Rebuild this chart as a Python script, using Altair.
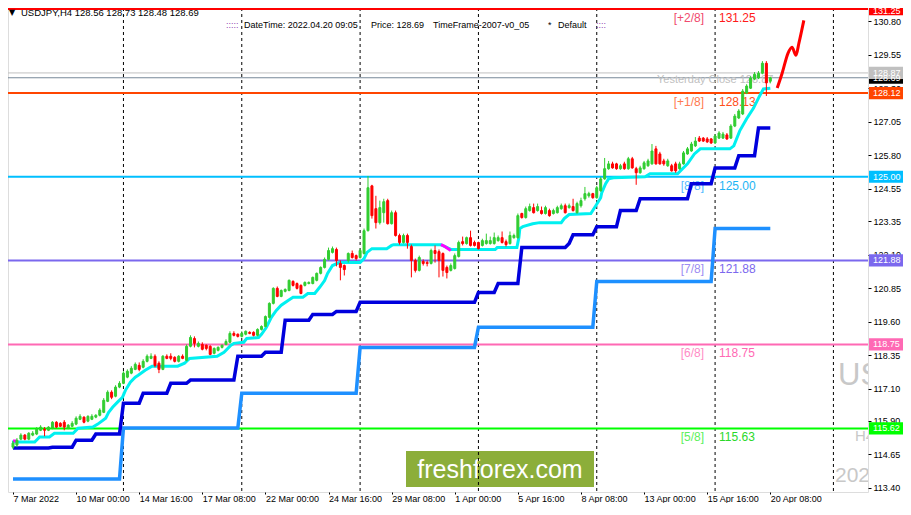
import altair as alt
import pandas as pd

FONT = "Liberation Sans"

# ---------------- data ----------------
opens = [114.92, 115.00, 115.22, 115.37, 115.22, 115.37, 115.41, 115.55, 115.59, 115.55,
         115.63, 115.85, 115.81, 115.85, 115.63, 115.70, 115.78, 115.96, 116.04, 115.89,
         115.96, 116.04, 116.11, 116.22, 116.63, 116.97, 116.82, 117.16, 117.30, 117.53,
         117.68, 117.82, 117.97, 117.90, 118.12, 118.23, 118.31, 118.05, 117.82, 118.31,
         118.31, 118.27, 118.12, 118.31, 118.16, 118.68, 118.97, 118.68, 118.75, 118.72,
         118.68, 118.42, 118.53, 118.64, 118.75, 118.83, 119.16, 119.13, 119.05, 119.13,
         119.20, 119.20, 119.09, 119.31, 119.42, 119.76, 120.28, 120.84, 120.54, 120.73,
         120.76, 121.10, 121.02, 120.95, 120.95, 121.02, 121.02, 121.14, 121.40, 121.62,
         121.92, 122.18, 122.29, 121.77, 121.69, 121.88, 122.14, 122.06, 121.99, 122.14,
         122.99, 124.66, 123.81, 123.29, 123.66, 124.11, 123.25, 123.66, 122.81, 122.55,
         122.81, 122.40, 121.88, 121.51, 121.84, 121.80, 121.77, 122.25, 122.21, 122.14,
         121.62, 121.51, 121.58, 122.03, 122.58, 122.51, 122.73, 122.55, 122.55, 122.44,
         122.51, 122.51, 122.51, 122.62, 122.73, 122.58, 122.51, 122.73, 122.73, 123.63,
         123.48, 123.74, 123.85, 123.74, 123.74, 123.63, 123.74, 123.63, 123.66, 123.81,
         123.92, 123.85, 123.89, 123.66, 123.92, 124.18, 124.29, 124.37, 124.22, 124.48,
         124.92, 125.30, 125.48, 125.48, 125.30, 125.48, 125.30, 125.67, 125.30, 125.15,
         125.30, 125.41, 125.48, 126.04, 125.85, 125.59, 125.41, 125.41, 125.48, 125.30,
         125.48, 125.85, 125.96, 126.15, 126.44, 126.44, 126.41, 126.41, 126.26, 126.44,
         126.44, 126.56, 126.44, 126.89, 127.19, 127.34, 128.12, 128.30, 128.64, 128.68,
         128.86, 129.23, 128.56]
highs = [115.15, 115.26, 115.44, 115.41, 115.48, 115.52, 115.67, 115.74, 115.67, 115.70,
         115.89, 115.89, 115.85, 115.93, 115.78, 115.89, 116.07, 116.15, 116.07, 116.11,
         116.15, 116.15, 116.37, 116.75, 117.04, 117.04, 117.23, 117.38, 117.75, 117.82,
         117.94, 118.08, 118.08, 118.20, 118.38, 118.42, 118.38, 118.12, 118.35, 118.38,
         118.42, 118.31, 118.35, 118.38, 118.75, 119.09, 119.05, 118.86, 118.83, 118.75,
         118.72, 118.64, 118.68, 118.75, 118.94, 119.24, 119.24, 119.16, 119.24, 119.27,
         119.24, 119.24, 119.35, 119.46, 119.83, 120.32, 120.88, 120.91, 120.80, 120.84,
         121.17, 121.14, 121.06, 120.99, 121.10, 121.10, 121.28, 121.43, 121.66, 121.99,
         122.36, 122.40, 122.36, 121.88, 121.73, 122.18, 122.25, 122.10, 122.32, 123.07,
         125.03, 124.70, 124.29, 124.11, 124.18, 124.18, 123.74, 123.74, 122.88, 122.88,
         122.88, 122.47, 121.95, 122.06, 121.92, 121.88, 122.32, 122.44, 122.29, 122.18,
         121.69, 121.77, 122.14, 122.62, 122.77, 122.77, 122.99, 122.62, 122.58, 122.69,
         122.88, 122.77, 122.92, 122.81, 122.96, 122.66, 122.96, 122.88, 123.63, 123.66,
         123.89, 124.00, 124.00, 124.00, 123.89, 123.92, 123.81, 123.81, 123.92, 124.00,
         124.00, 124.00, 124.18, 124.07, 124.22, 124.62, 124.44, 124.40, 124.66, 125.00,
         125.70, 125.59, 125.56, 125.52, 125.48, 125.56, 125.74, 125.74, 125.37, 125.41,
         125.59, 125.67, 126.22, 126.15, 125.93, 125.67, 125.67, 125.48, 125.56, 125.56,
         125.96, 126.11, 126.30, 126.48, 126.52, 126.48, 126.48, 126.44, 126.59, 126.70,
         126.67, 126.63, 126.96, 127.34, 127.52, 128.27, 128.45, 128.75, 128.90, 128.94,
         129.31, 129.31, 128.73]
lows = [114.85, 114.92, 115.18, 115.18, 115.18, 115.33, 115.37, 115.52, 115.33, 115.52,
        115.59, 115.63, 115.67, 115.55, 115.59, 115.67, 115.74, 115.93, 115.81, 115.85,
        115.93, 116.00, 116.07, 116.19, 116.60, 116.71, 116.78, 117.12, 117.27, 117.49,
        117.64, 117.79, 117.75, 117.86, 118.08, 118.20, 117.90, 117.68, 117.79, 118.20,
        118.16, 118.08, 118.08, 118.20, 118.12, 118.64, 118.64, 118.64, 118.53, 118.53,
        118.35, 118.38, 118.49, 118.60, 118.72, 118.79, 119.05, 119.01, 119.01, 119.09,
        119.13, 119.05, 119.05, 119.27, 119.39, 119.72, 120.24, 120.51, 120.51, 120.69,
        120.73, 120.91, 120.80, 120.62, 120.91, 120.99, 120.99, 121.10, 121.36, 121.58,
        121.88, 122.14, 121.66, 121.14, 121.32, 121.80, 121.95, 121.88, 121.95, 122.10,
        122.96, 123.44, 123.07, 123.22, 123.29, 123.22, 123.22, 122.77, 122.47, 122.51,
        122.32, 121.25, 121.43, 121.47, 121.69, 121.66, 121.73, 121.80, 121.25, 121.28,
        121.21, 121.47, 121.54, 121.99, 122.44, 122.47, 122.40, 122.40, 122.29, 122.40,
        122.47, 122.47, 122.47, 122.58, 122.51, 122.40, 122.47, 122.69, 122.69, 123.44,
        123.44, 123.70, 123.63, 123.70, 123.59, 123.59, 123.51, 123.59, 123.63, 123.77,
        123.63, 123.81, 123.70, 123.63, 123.85, 124.11, 124.22, 124.18, 124.18, 124.44,
        124.89, 125.26, 125.30, 125.26, 125.26, 125.26, 125.26, 125.30, 124.70, 125.11,
        125.26, 125.37, 125.45, 125.45, 125.45, 125.41, 125.37, 125.19, 125.15, 125.26,
        125.45, 125.82, 125.93, 126.11, 126.30, 126.30, 126.26, 126.22, 126.22, 126.41,
        126.41, 126.37, 126.41, 126.85, 127.15, 127.30, 128.08, 128.27, 128.60, 128.64,
        128.82, 128.01, 128.48]
closes = [115.07, 115.18, 115.37, 115.22, 115.44, 115.44, 115.59, 115.67, 115.55, 115.67,
          115.85, 115.67, 115.70, 115.67, 115.74, 115.81, 116.00, 116.07, 115.85, 116.07,
          116.07, 116.11, 116.30, 116.67, 116.97, 116.78, 117.16, 117.30, 117.68, 117.75,
          117.86, 118.01, 117.82, 118.12, 118.31, 118.31, 117.97, 117.82, 118.31, 118.23,
          118.23, 118.12, 118.31, 118.23, 118.68, 119.01, 118.79, 118.79, 118.57, 118.60,
          118.38, 118.60, 118.64, 118.72, 118.86, 119.16, 119.09, 119.05, 119.16, 119.24,
          119.16, 119.09, 119.31, 119.42, 119.79, 120.28, 120.84, 120.54, 120.76, 120.80,
          121.14, 120.95, 120.84, 120.65, 121.06, 121.06, 121.25, 121.40, 121.62, 121.92,
          122.25, 122.32, 121.88, 121.62, 121.54, 122.14, 121.99, 121.95, 122.25, 122.99,
          124.59, 123.55, 123.29, 123.85, 124.07, 123.25, 123.66, 122.81, 122.55, 122.81,
          122.55, 121.88, 121.51, 121.99, 121.77, 121.77, 122.25, 122.14, 121.88, 121.51,
          121.43, 121.69, 122.06, 122.55, 122.51, 122.73, 122.44, 122.44, 122.32, 122.62,
          122.62, 122.62, 122.73, 122.73, 122.55, 122.47, 122.81, 122.81, 123.55, 123.48,
          123.81, 123.89, 123.66, 123.89, 123.63, 123.85, 123.55, 123.74, 123.85, 123.92,
          123.66, 123.92, 123.74, 124.00, 124.11, 124.37, 124.37, 124.22, 124.59, 124.92,
          125.30, 125.48, 125.33, 125.30, 125.41, 125.30, 125.67, 125.33, 125.15, 125.33,
          125.52, 125.59, 125.96, 125.48, 125.48, 125.48, 125.59, 125.22, 125.22, 125.48,
          125.89, 126.04, 126.22, 126.33, 126.33, 126.33, 126.30, 126.26, 126.52, 126.63,
          126.59, 126.41, 126.89, 127.26, 127.45, 128.19, 128.38, 128.68, 128.82, 128.86,
          129.23, 128.50, 128.69]

x_tick_bars = [0, 16, 32, 48, 64, 80, 96, 112, 128, 144, 160, 176, 192]
x_tick_labels = ["7 Mar 2022", "10 Mar 00:00", "14 Mar 16:00", "17 Mar 08:00", "22 Mar 00:00",
                 "24 Mar 16:00", "29 Mar 08:00", "1 Apr 00:00", "5 Apr 16:00", "8 Apr 08:00",
                 "13 Apr 00:00", "15 Apr 16:00", "20 Apr 08:00"]
y_tick_values = [130.80, 129.55, 128.30, 127.05, 125.80, 124.55, 123.35, 122.10,
                 120.85, 119.60, 118.35, 117.10, 115.90, 114.65, 113.40]
separator_bars = [28, 58, 88, 118, 148, 178, 208]

cyan_bars = [-0.25, 5.5, 6.75, 9.25, 10.5, 15.25, 16.5, 20.25, 21.5, 23.5, 24.25, 25.25,
             26.5, 27.75, 28.5, 29.75, 31, 31.75, 33.5, 35.25, 41.75, 43.5, 44.75, 51.75,
             53.5, 55.25, 56, 58.5, 59.25, 62.25, 63, 64.25, 65.5, 66.75, 68, 69.75, 71,
             73.5, 74.75, 76.5, 77.75, 79, 79.75, 81, 82.75, 88, 89, 89.75, 91, 94.75, 96,
             96.5, 108.5, 111, 122.25, 122.75, 127.75, 128.25, 128.5, 129.25, 131.75, 133.5,
             139, 139.75, 141, 146.5, 147.75, 149, 149.25, 150.25, 151, 152.25, 160.25,
             161.5, 168.5, 169.75, 171, 172.75, 174.25, 181.75, 182.75, 184.25, 186, 187.75,
             189, 190.25, 192]
cyan_prices = [115.11, 115.11, 115.30, 115.30, 115.44, 115.44, 115.63, 115.67, 115.78, 116.00,
               116.22, 116.41, 116.60, 116.78, 117.04, 117.34, 117.53, 117.60, 117.79, 117.94,
               117.94, 118.05, 118.23, 118.31, 118.46, 118.72, 118.79, 118.83, 118.97, 119.01,
               119.13, 119.39, 119.76, 120.02, 120.21, 120.39, 120.51, 120.51, 120.65, 120.65,
               120.88, 121.13, 121.40, 121.69, 121.80, 121.80, 121.95, 122.18, 122.32, 122.32,
               122.44, 122.47, 122.47, 122.29, 122.29, 122.36, 122.36, 122.73, 123.07, 123.14,
               123.25, 123.29, 123.29, 123.44, 123.59, 123.63, 123.92, 124.22, 124.40, 124.74,
               124.92, 124.96, 125.00, 125.11, 125.11, 125.30, 125.48, 125.85, 126.04, 126.04,
               126.15, 126.71, 127.16, 127.56, 127.93, 128.27, 128.30]
magenta_bars_a = [0, 1]
magenta_prices_a = [115.15, 115.15]
magenta_bars_b = [108.5, 109.5, 111]
magenta_prices_b = [122.47, 122.40, 122.25]

navy_step_bars = [0, 10, 16, 21, 28, 33, 40, 45, 57, 64, 69, 76, 82, 88, 118, 123, 129,
                  141, 142, 148, 154, 159, 172, 178, 184, 189]
navy_step_prices = [114.89, 114.92, 115.18, 115.41, 116.56, 116.93, 117.30, 117.42, 118.31,
                    118.46, 119.65, 119.87, 119.98, 120.32, 120.69, 121.02, 122.36, 122.51,
                    122.84, 123.14, 123.74, 124.18, 124.74, 125.33, 125.78, 126.82]
blue_step_bars = [0, 28, 58, 88, 118, 148, 178]
blue_step_prices = [113.73, 115.64, 116.93, 118.64, 119.39, 121.10, 123.07]
last_bar = 192

forecast_bars = [193.75, 195.0, 196.5, 197.5, 198.5, 199.25, 200.5]
forecast_prices = [128.31, 128.86, 129.61, 129.83, 129.53, 129.98, 130.83]

level_prices = [131.25, 128.12, 125.00, 121.88, 118.75, 115.62]
level_colors = ["#ff0000", "#ff4500", "#00bfff", "#7b68ee", "#ff69b4", "#00ff00"]
level_tags = ["[+2/8]", "[+1/8]", "[8/8]", "[7/8]", "[6/8]", "[5/8]"]
level_tag_colors = ["#f04a6e", "#ff7a50", "#54b8ff", "#9c8cf2", "#ff8cc6", "#5cf05c"]
level_texts = ["131.25", "128.13", "125.00", "121.88", "118.75", "115.63"]
level_text_colors = ["#ff1a1a", "#ff4f1a", "#1cb4f4", "#7b68ee", "#ff69b4", "#2ad82a"]

yclose_price = 128.87
bid_price = 128.69

box_prices = [128.69, 128.87, 131.25, 128.12, 125.00, 121.88, 118.75, 115.62]
box_labels = ["128.69", "128.87", "131.25", "128.12", "125.00", "121.88", "118.75", "115.62"]
box_colors = ["#000000", "#c0c0c0", "#ff0000", "#ff4500", "#00bfff", "#7b68ee", "#ff69b4", "#00ff00"]

# ---------------- tables ----------------
candles = pd.DataFrame({"bar": list(range(len(opens))), "open": opens, "high": highs,
                        "low": lows, "close": closes})
candles["dir"] = ["up" if c >= o else "down" for o, c in zip(opens, closes)]


def line_df(bars, prices):
    return pd.DataFrame({"bar": bars, "price": prices, "order": list(range(len(bars)))})


def step_df(starts, values, end):
    xs_, ys_ = [], []
    for k, (s, v) in enumerate(zip(starts, values)):
        e = starts[k + 1] - 1 if k + 1 < len(starts) else end
        xs_ += [s, e]
        ys_ += [v, v]
    return line_df(xs_, ys_)


levels = pd.DataFrame({"price": level_prices, "color": level_colors, "tag": level_tags,
                       "tagcolor": level_tag_colors, "txt": level_texts,
                       "txtcolor": level_text_colors})
boxes = pd.DataFrame({"price": box_prices, "label": box_labels, "color": box_colors,
                      "order": list(range(len(box_prices)))})
seps = pd.DataFrame({"bar": separator_bars})
one = pd.DataFrame({"a": [0]})

# ---------------- layout (plot area starts at page x=8, y=8) ----------------
W, H = 860, 484
OX, OY = 8, 8   # page offset of plot origin; pixel positions below are page coords minus this

label_js = "[" + ",".join("'" + s + "'" for s in x_tick_labels) + "]"
x_axis = alt.Axis(values=x_tick_bars, labelExpr=label_js + "[round(datum.value/16)]",
                  title=None, grid=False, labelAlign="left", labelFont=FONT, labelFontSize=9,
                  labelColor="black", tickColor="black", tickSize=2, domain=False,
                  labelPadding=0, labelFlush=False, labelOverlap=False)
y_axis = alt.Axis(orient="right", values=y_tick_values, format=".2f", title=None, grid=False,
                  labelFont=FONT, labelFontSize=9, labelColor="black", tickColor="black",
                  tickSize=3, domain=False, labelPadding=2, labelFlush=False,
                  labelOverlap=False, labelBaseline="middle")
xs = alt.Scale(domain=[0, 215.5], nice=False, zero=False)
ys = alt.Scale(domain=[113.25, 131.29], nice=False, zero=False)


def X(f="bar"):
    return alt.X(f + ":Q", scale=xs, axis=x_axis)


def Y(f="price"):
    return alt.Y(f + ":Q", scale=ys, axis=y_axis)


def px(v):
    return alt.value(v - OX)


def py(v):
    return alt.value(v - OY)


layers = []

# watermark box
layers.append(alt.Chart(one).mark_rect(color="#8cae3a").encode(
    x=px(406), x2=px(594), y=py(451), y2=py(487)))
layers.append(alt.Chart(one).mark_text(text="freshforex.com", font=FONT, fontSize=25,
                                       color="white", align="center", baseline="middle").encode(
    x=px(500), y=py(470)))

# big grey watermark text (clipped by the plot)
for txt, x0, y0, fs in [("USDJPY", 838, 376, 31), ("H4", 855, 436, 15), ("2022.04.20", 835, 476, 21)]:
    layers.append(alt.Chart(one).mark_text(text=txt, font=FONT, fontSize=fs, color="#c8c8c8",
                                           align="left", baseline="middle", clip=True).encode(
        x=px(x0), y=py(y0)))

# separators
layers.append(alt.Chart(seps).mark_rule(color="black", strokeDash=[3, 3], strokeWidth=1).encode(x=X()))

# yesterday close / bid lines
layers.append(alt.Chart(pd.DataFrame({"price": [yclose_price]})).mark_rule(
    color="#c0c0c0", strokeWidth=1).encode(y=Y()))
layers.append(alt.Chart(pd.DataFrame({"price": [bid_price]})).mark_rule(
    color="#778899", strokeWidth=1).encode(y=Y()))
layers.append(alt.Chart(pd.DataFrame({"price": [yclose_price]})).mark_text(
    text="Yesterday Close 128.87", font=FONT, fontSize=11, color="#c0c0c0", align="left",
    baseline="middle", dy=7).encode(x=px(657), y=Y()))

# level lines and their labels
layers.append(alt.Chart(levels).mark_rule(strokeWidth=2).encode(
    y=Y(), color=alt.Color("color:N", scale=None)))
layers.append(alt.Chart(levels).mark_text(font=FONT, fontSize=12, align="right",
                                          baseline="middle", dy=9).encode(
    x=px(704), y=Y(), text="tag:N", color=alt.Color("tagcolor:N", scale=None)))
layers.append(alt.Chart(levels).mark_text(font=FONT, fontSize=12, align="left",
                                          baseline="middle", dy=9).encode(
    x=px(719), y=Y(), text="txt:N", color=alt.Color("txtcolor:N", scale=None)))

# step lines
layers.append(alt.Chart(step_df(blue_step_bars, blue_step_prices, last_bar)).mark_line(
    color="#1e90ff", strokeWidth=3.5).encode(x=X(), y=Y(), order="order:Q"))
layers.append(alt.Chart(step_df(navy_step_bars, navy_step_prices, last_bar)).mark_line(
    color="#0000dd", strokeWidth=3.5).encode(x=X(), y=Y(), order="order:Q"))

# trailing line
layers.append(alt.Chart(line_df(cyan_bars, cyan_prices)).mark_line(
    color="#00f0f0", strokeWidth=3, clip=True).encode(x=X(), y=Y(), order="order:Q"))
layers.append(alt.Chart(line_df(magenta_bars_a, magenta_prices_a)).mark_line(
    color="#ff00ff", strokeWidth=3).encode(x=X(), y=Y(), order="order:Q"))
layers.append(alt.Chart(line_df(magenta_bars_b, magenta_prices_b)).mark_line(
    color="#ff00ff", strokeWidth=3).encode(x=X(), y=Y(), order="order:Q"))

# candles
dir_color = alt.Scale(domain=["up", "down"], range=["#32cd32", "#ff0000"])
layers.append(alt.Chart(candles).mark_rule(strokeWidth=1).encode(
    x=X(), y=Y("low"), y2="high:Q", color=alt.Color("dir:N", scale=dir_color, legend=None)))
layers.append(alt.Chart(candles).mark_bar(size=2, strokeWidth=1).encode(
    x=X(), y=Y("open"), y2="close:Q",
    fill=alt.Fill("dir:N", scale=dir_color, legend=None),
    stroke=alt.Stroke("dir:N", scale=dir_color, legend=None)))

# forecast curve
layers.append(alt.Chart(line_df(forecast_bars, forecast_prices)).mark_line(
    color="#ff0000", strokeWidth=3, interpolate="monotone").encode(x=X(), y=Y()))

# right-hand price boxes
box_shape = "M-1,-0.33L1,-0.33L1,0.33L-1,0.33Z"
layers.append(alt.Chart(boxes).mark_point(shape=box_shape, filled=True, opacity=1,
                                          strokeWidth=0, size=1369).encode(
    x=px(887.5), y=Y(), color=alt.Color("color:N", scale=None), order="order:Q"))
layers.append(alt.Chart(boxes).transform_filter("datum.price < 131").mark_text(
    font=FONT, fontSize=9, color="white", align="left", baseline="middle").encode(
    x=px(873), y=Y(), text="label:N", order="order:Q"))
layers.append(alt.Chart(boxes).transform_filter("datum.price >= 131").mark_text(
    font=FONT, fontSize=9, color="white", align="left", baseline="middle", dy=2).encode(
    x=px(873), y=Y(), text="label:N"))

# header
layers.append(alt.Chart(one).mark_text(text="\u25bc", font="DejaVu Sans", fontSize=8,
                                       color="black", align="left", baseline="middle").encode(
    x=px(9), y=py(13)))
layers.append(alt.Chart(one).mark_text(text="USDJPY,H4  128.56 128.73 128.48 128.69", font=FONT,
                                       fontSize=9.5, color="black", align="left",
                                       baseline="middle").encode(x=px(21), y=py(13)))
for txt, x0, col in [(":::::", 226, "#9040b0"), ("DateTime: 2022.04.20 09:05", 244, "black"),
                     ("Price: 128.69", 371, "black"), ("TimeFrame-2007-v0_05", 433, "black"),
                     ("*", 548, "black"), ("Default", 558, "black"), ("::::", 596, "#9040b0")]:
    layers.append(alt.Chart(one).mark_text(text=txt, font=FONT, fontSize=9, color=col,
                                           align="left", baseline="middle").encode(
        x=px(x0), y=py(25)))

chart = alt.layer(*layers).properties(
    width=W, height=H,
    padding={"left": 0, "top": 0, "right": 35, "bottom": 11},
    autosize=alt.AutoSizeParams(type="none"),
).configure_view(stroke="black", strokeWidth=1).configure(background="white")

chart.save("out.html", embed_options={"renderer": "svg", "actions": False})
